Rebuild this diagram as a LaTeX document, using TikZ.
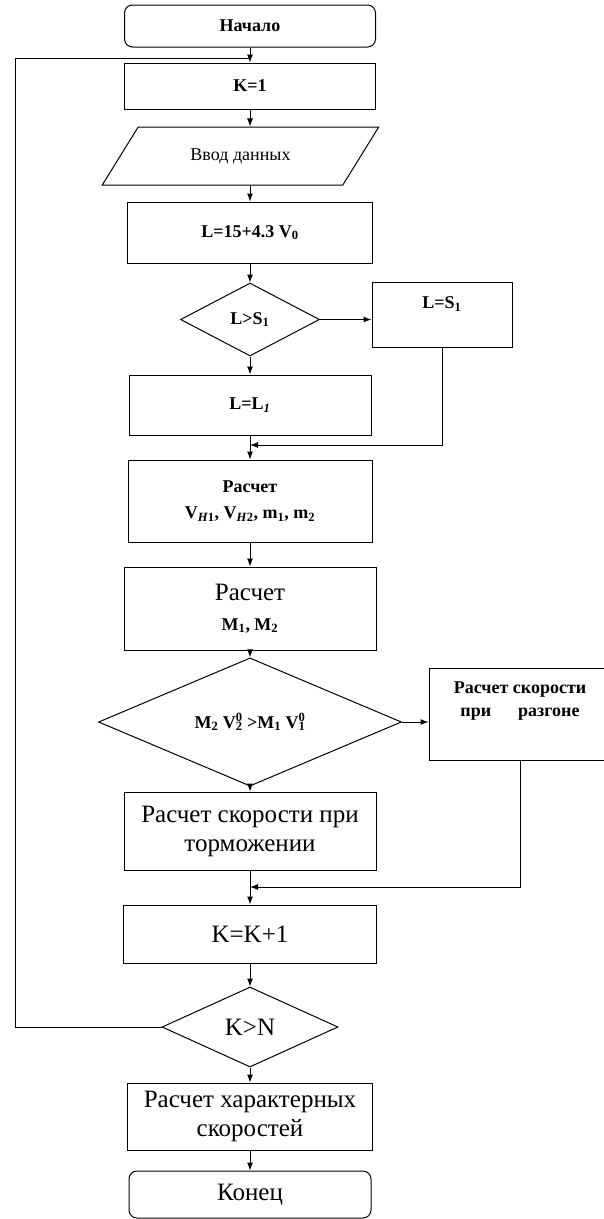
\documentclass[tikz,border=0pt]{standalone}
\usepackage{fontspec}
\setmainfont{Liberation Serif}
\usetikzlibrary{arrows.meta,shapes.geometric}

\newcommand\smalltxt{\fontsize{18}{22}\selectfont}
\newcommand\bigtxt{\fontsize{25}{29}\selectfont}
\newcommand\supsub[2]{\rlap{\textsuperscript{#1}}\textsubscript{#2}}

\begin{document}
\begin{tikzpicture}[x=1pt,y=-1pt,
  block/.style={draw=black,line width=1pt,inner sep=0pt},
  term/.style={block,rounded corners=8pt},
  cond/.style={block,diamond},
  io/.style={block,trapezium,trapezium left angle=41,trapezium right angle=139,trapezium stretches=true},
  flow/.style={-{Latex[length=8pt,width=6pt]},line width=1pt},
  line/.style={line width=1pt},
  sm/.style={font=\smalltxt\bfseries},
  big/.style={font=\bigtxt},
]
\fill[white] (0,0) rectangle (604,1219);
\useasboundingbox (0,0) rectangle (604,1219);

% main column
\node[term,sm,minimum width=251pt,minimum height=42pt] (nachalo) at (250,26) {Начало};
\node[block,sm,minimum width=251pt,minimum height=46pt] (k1) at (250,86) {K=1};
\node[io,font=\smalltxt,minimum width=277pt,minimum height=58pt] (vvod) at (240.5,156) {Ввод данных};
\node[block,sm,minimum width=245pt,minimum height=61pt] (l15) at (250,232.5) {L=15+4.3 V\textsubscript{0}};
\node[cond,sm,minimum width=139pt,minimum height=73pt] (d1) at (250,319.5) {L>S\textsubscript{1}};
\node[block,sm,minimum width=140pt,minimum height=65pt,text depth=23pt] (ls1) at (442,314.5) {L=S\textsubscript{1}};
\node[block,sm,minimum width=242pt,minimum height=60pt] (ll1) at (250,405) {L=L\textsubscript{\textit{1}}};
\node[block,sm,align=center,minimum width=244pt,minimum height=82pt] (rv) at (250,501)
  {Расчет\\[4pt]V\textsubscript{\textit{H}1}, V\textsubscript{\textit{H}2}, m\textsubscript{1}, m\textsubscript{2}};
\node[block,big,align=center,minimum width=252pt,minimum height=83pt] (rm) at (250,608.5)
  {Расчет\\[1pt]{\smalltxt\bfseries M\textsubscript{1}, M\textsubscript{2}}};
\node[cond,sm,minimum width=303pt,minimum height=90pt] (d2) at (250,722)
  {M\textsubscript{2} V\supsub{0}{2} >M\textsubscript{1} V\supsub{0}{1}};
\node[block,sm,minimum width=182pt,minimum height=92pt,text height=15pt,text depth=57pt] (rr) at (520,714)
  {\begin{tabular}[t]{@{}c@{}}Расчет скорости\\[1pt]при\hspace{1.5em}разгоне\end{tabular}};
\node[block,big,align=center,minimum width=252pt,minimum height=78pt] (torm) at (250,831) {Расчет скорости при\\торможении};
\node[block,big,minimum width=253pt,minimum height=58pt] (kk) at (250,934) {K=K+1};
\node[cond,big,minimum width=176pt,minimum height=80pt] (d3) at (250,1027) {K>N};
\node[block,big,align=center,minimum width=245pt,minimum height=67pt] (harakt) at (250,1116.5) {Расчет характерных\\скоростей};
\node[term,big,minimum width=242pt,minimum height=47pt] (konec) at (250,1194.5) {Конец};

\coordinate (looptop) at (250,58);
\coordinate (loopleft) at (15,58);
\coordinate (join1) at (250,445);
\coordinate (join2) at (250,887);

% connectors
\draw[flow] (nachalo) -- (k1);
\draw[flow] (k1.south) -- (k1.south |- vvod.north);
\draw[flow] (l15.north |- vvod.south) -- (l15.north);
\draw[flow] (l15) -- (d1);
\draw[flow] (d1) -- (ll1);
\draw[flow] (d1.east) -- (d1.east -| ls1.west);
\draw[flow] (ll1) -- (rv);
\draw[flow] (ls1.south) |- (join1);
\draw[flow] (rv) -- (rm);
\draw[flow] (rm) -- (d2);
\draw[flow] (d2) -- (torm);
\draw[flow] (d2.east) -- (d2.east -| rr.west);
\draw[flow] (torm) -- (kk);
\draw[flow] (rr.south) |- (join2);
\draw[flow] (kk) -- (d3);
\draw[flow] (d3) -- (harakt);
\draw[flow] (harakt) -- (konec);
% return loop
\draw[line] (d3.west) -| (loopleft) -- (looptop);
\end{tikzpicture}
\end{document}
